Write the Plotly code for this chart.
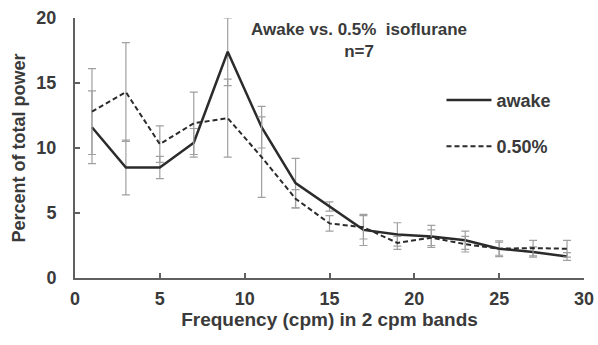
import plotly.graph_objects as go

freq = [1, 3, 5, 7, 9, 11, 13, 15, 17, 19, 21, 23, 25, 27, 29]
awake = [11.6, 8.5, 8.5, 10.4, 17.4, 11.6, 7.3, 5.5, 3.7, 3.35, 3.2, 2.9, 2.25, 2.0, 1.65]
awake_err = [2.8, 2.1, 0.85, 1.1, 2.6, 1.6, 1.9, 0.35, 1.2, 0.9, 0.85, 0.7, 0.6, 0.4, 0.3]
iso = [12.8, 14.3, 10.3, 11.9, 12.3, 9.3, 6.1, 4.2, 3.9, 2.7, 3.1, 2.6, 2.25, 2.3, 2.25]
iso_err = [3.3, 3.8, 1.4, 2.4, 3.0, 3.1, 0.7, 0.6, 0.9, 0.5, 0.6, 0.6, 0.5, 0.6, 0.65]

title_text = "Awake vs. 0.5%  isoflurane<br>n=7"
x_title = "Frequency (cpm) in 2 cpm bands"
y_title = "Percent of total power"

font_family = "Liberation Sans, Arial, sans-serif"
txt = "#3a3a3a"

fig = go.Figure()
fig.add_trace(go.Scatter(
    x=freq, y=awake, mode="lines", name="awake", legendgroup="a",
    line=dict(color="#2b2b2b", width=2.5),
    error_y=dict(type="data", array=awake_err, visible=True, color="#a0a0a0", thickness=1.2, width=4),
))
fig.add_trace(go.Scatter(
    x=freq, y=iso, mode="lines", name="0.50%", legendgroup="b",
    line=dict(color="#2b2b2b", width=2, dash="5px,3px"),
    error_y=dict(type="data", array=iso_err, visible=True, color="#a0a0a0", thickness=1.2, width=4),
))

fig.add_annotation(
    text="<b>" + title_text + "</b>", xref="paper", yref="paper",
    x=0.558, y=1.0, xanchor="center", yanchor="top", showarrow=False,
    font=dict(size=17, color=txt), align="center",
)

fig.update_layout(
    width=598, height=345,
    margin=dict(l=75, r=14, t=18, b=67),
    paper_bgcolor="white", plot_bgcolor="white",
    font=dict(family=font_family, size=18, color=txt),
    legend=dict(x=0.72, y=0.755, xanchor="left", yanchor="top", bgcolor="rgba(0,0,0,0)",
                tracegroupgap=20, traceorder="grouped", itemwidth=45,
                font=dict(size=18, color=txt, weight="bold")),
    showlegend=True,
)
fig.update_xaxes(
    range=[0, 30], tickvals=[0, 5, 10, 15, 20, 25, 30],
    showline=True, linecolor="#606060", linewidth=2,
    ticks="inside", ticklen=5, tickcolor="#606060", tickwidth=1.5,
    showgrid=False, zeroline=False, automargin=False,
    tickfont=dict(size=18, color=txt, weight="bold"), ticklabelstandoff=3,
    title=dict(text="<b>" + x_title + "</b>", font=dict(size=19, color=txt), standoff=0),
)
fig.update_yaxes(
    range=[0, 20], tickvals=[0, 5, 10, 15, 20],
    showline=True, linecolor="#606060", linewidth=2,
    ticks="inside", ticklen=5, tickcolor="#606060", tickwidth=1.5,
    showgrid=False, zeroline=False, automargin=False,
    tickfont=dict(size=18, color=txt, weight="bold"), ticklabelstandoff=13,
    title=dict(text="<b>" + y_title + "</b>", font=dict(size=18, color=txt), standoff=6),
)

fig.write_html(
    "out.html",
    config={"displayModeBar": False},
    post_script="document.documentElement.style.overflow='hidden';"
                "document.body.style.margin='0';document.body.style.overflow='hidden';",
)
